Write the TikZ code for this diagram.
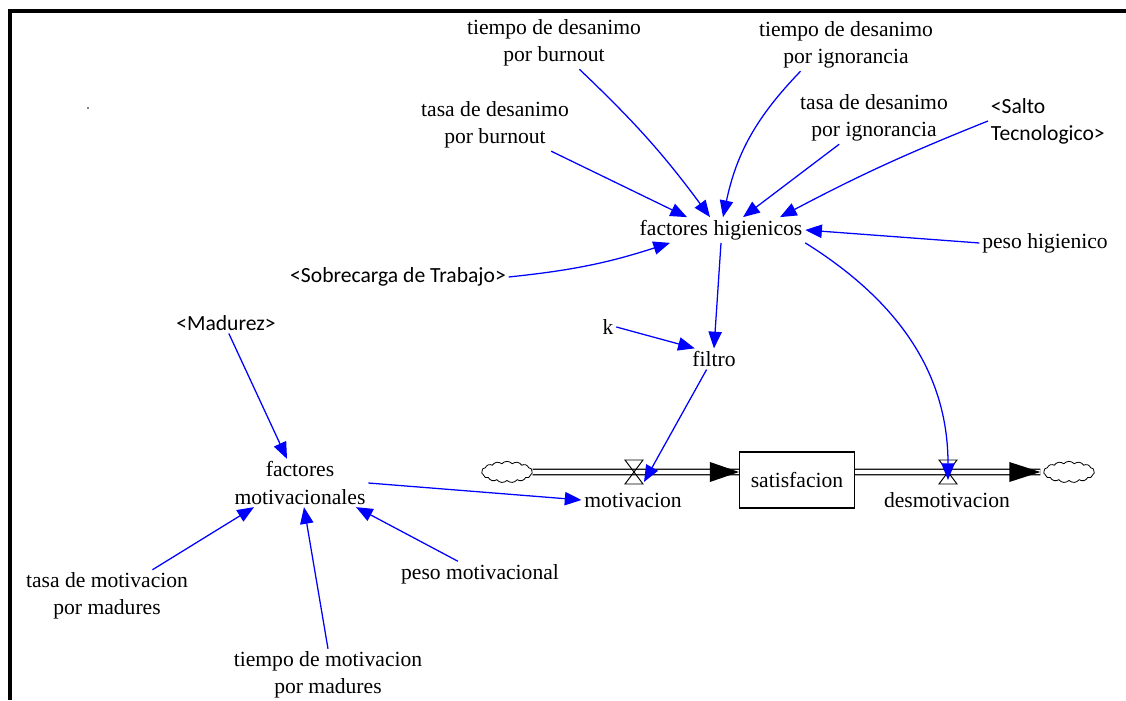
\documentclass[tikz,border=0pt]{standalone}
\usepackage{fontspec}
\setmainfont{Liberation Serif}
\newfontfamily\shadowfont{Carlito}
\usepackage{tikz}
\usetikzlibrary{positioning, arrows.meta, calc, shapes.symbols}

\begin{document}
\begin{tikzpicture}[x=0.75pt, y=0.75pt,
  var/.style={align=center, inner sep=2pt, font=\fontsize{16.2}{20.25}\selectfont},
  shadowvar/.style={var, font=\shadowfont\fontsize{16.2}{20.25}\selectfont},
  stock/.style={var, draw, line width=1.1pt, minimum width=86pt, minimum height=42pt},
  link/.style={blue, line width=0.95pt, -{Triangle[length=12.5pt,width=10pt]}},
  pipe/.style={double, double distance=3.2pt, line width=0.9pt},
  cloudy/.style={cloud, cloud puffs=15, cloud puff arc=100, aspect=2.6, draw,
                 line width=0.6pt, minimum width=38pt, minimum height=16pt, inner sep=0pt},
  valve/.pic={\draw[line width=0.7pt] (-9,-12) -- (9,-12) -- (-9,12) -- (9,12) -- cycle;}]
  \useasboundingbox (0,0) rectangle (1126,700);
  \draw[line width=3pt] (10,0) -- (10,689) -- (1126,689);
  \fill (88,592) circle (0.8);

  % hygiene side
  \node[var] (tdb) at (554,657) {tiempo de desanimo\\por burnout};
  \node[var] (tdi) at (846,655) {tiempo de desanimo\\por ignorancia};
  \node[var] (tab) at (495,575) {tasa de desanimo\\por burnout};
  \node[var] (tai) at (874,582) {tasa de desanimo\\por ignorancia};
  \node[shadowvar, align=left, anchor=west] (salto) at (988,579) {<Salto\\Tecnologico>};
  \node[var] (ph) at (1045,457) {peso higienico};
  \node[var] (fh) at (721,470) {factores higienicos};
  \node[shadowvar] (sob) at (398,423) {<Sobrecarga de Trabajo>};
  \node[var] (k) at (608,373) {k};
  \node[var] (filtro) at (714,341) {filtro};

  % motivation side
  \node[shadowvar] (madurez) at (226,377) {<Madurez>};
  \node[var] (fm) at (300,217) {factores\\motivacionales};
  \node[var] (tmm) at (107,104) {tasa de motivacion\\por madures};
  \node[var] (pm) at (480,126) {peso motivacional};
  \node[var] (tim) at (328,25) {tiempo de motivacion\\por madures};

  % stock and flows
  \node[stock] (sat) at (797,220) {satisfacion};
  \coordinate (vmot) at (634,228);
  \coordinate (vdes) at (948,228);
  \node[var] (mot) at (633,200) {motivacion};
  \node[var] (des) at (947,200) {desmotivacion};
  \node[cloudy] (cloudL) at (507,228) {};
  \node[cloudy] (cloudR) at (1069,228) {};
  \coordinate (sink) at ($(cloudR.west)+(-3,0)$);

  \draw[pipe] (cloudL.east) -- (sat.west |- vmot);
  \fill (sat.west |- vmot) -- ++(-29,10) -- ++(0,-20) -- cycle;
  \draw[pipe] (sat.east |- vdes) -- (sink);
  \fill (sink) -- ++(-31,10) -- ++(0,-20) -- cycle;
  \pic at (vmot) {valve};
  \pic at (vdes) {valve};

  \draw[link] (tdb.314) to[bend left=5] ($(fh.north)+(-11,0)$);
  \draw[link] (tdi.210) to[bend right=16] ($(fh.north)+(2,0)$);
  \draw[link] (tab.335) -- ($(fh.north)+(-34,0)$);
  \draw[link] (tai.217) -- ($(fh.north)+(22,0)$);
  \draw[link] (salto.west) to[bend right=3] ($(fh.north)+(59,0)$);
  \draw[link] (ph.west) -- (fh.east);
  \draw[link] (sob.east) to[bend right=6] ($(fh.south)+(-51,0)$);
  \draw[link] (fh.south) -- (filtro.north);
  \draw[link] (k.east) -- (filtro.151);
  \draw[link] (filtro.235) -- ($(vmot)+(10,-10)$);
  \draw[link] (fh.south east) to[out=-32, in=90] ($(vdes)+(0,-8)$);
  \draw[link] (madurez.285) -- ($(fm.north)+(-13,0)$);
  \draw[link] (fm.east) -- (mot.west);
  \draw[link] (tmm.30) -- ($(fm.south)+(-46,0)$);
  \draw[link] (tim.north) -- ($(fm.south)+(4,0)$);
  \draw[link] (pm.150) -- ($(fm.south)+(56,0)$);
\end{tikzpicture}
\end{document}
